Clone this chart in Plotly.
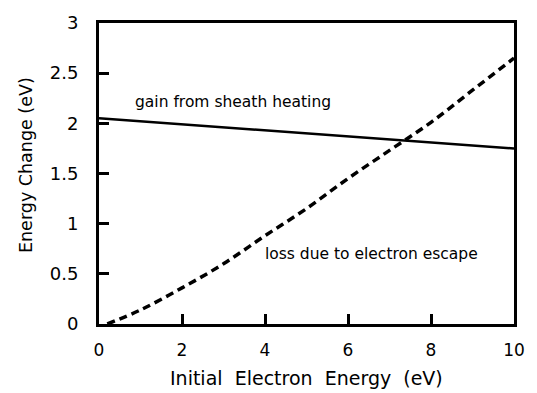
import plotly.graph_objects as go

# Data
gain_x = [0, 2, 4, 6, 8, 10]
gain_y = [2.05, 1.99, 1.93, 1.87, 1.81, 1.75]

loss_x = [0.2, 1, 2, 3, 4, 5, 6, 7, 8, 9, 10]
loss_y = [0.0, 0.14, 0.36, 0.60, 0.88, 1.15, 1.45, 1.73, 2.01, 2.33, 2.65]

x_ticks = [0, 2, 4, 6, 8, 10]
y_ticks = [0, 0.5, 1, 1.5, 2, 2.5, 3]
y_tick_text = ["0", "0.5", "1", "1.5", "2", "2.5", "3"]

FONT = "DejaVu Sans, Liberation Sans, Arial, sans-serif"

fig = go.Figure()
fig.add_trace(go.Scatter(x=gain_x, y=gain_y, mode="lines",
                         line=dict(color="black", width=2.5), showlegend=False))
fig.add_trace(go.Scatter(x=loss_x, y=loss_y, mode="lines", line_shape="spline",
                         line=dict(color="black", width=3.5, dash="8px,5px"),
                         showlegend=False))

fig.add_annotation(x=0.81, y=2.21, xref="x", yref="y", text="gain from sheath heating",
                   showarrow=False, xanchor="left", yanchor="middle",
                   font=dict(family=FONT, size=15.5, color="black"))
fig.add_annotation(x=3.94, y=0.70, xref="x", yref="y", text="loss due to electron escape",
                   showarrow=False, xanchor="left", yanchor="middle",
                   font=dict(family=FONT, size=15.5, color="black"))

fig.add_annotation(x=0.5, y=-0.181, xref="paper", yref="paper",
                   text="Initial&nbsp;&nbsp;Electron&nbsp;&nbsp;Energy&nbsp;&nbsp;(eV)",
                   showarrow=False, xanchor="center", yanchor="middle", borderpad=0,
                   font=dict(family=FONT, size=19, color="black"))
fig.add_annotation(x=-0.176, y=0.528, xref="paper", yref="paper",
                   text="Energy Change (eV)", textangle=-90,
                   showarrow=False, xanchor="center", yanchor="middle",
                   font=dict(family=FONT, size=17.5, color="black"))

fig.update_xaxes(range=[0, 10], tickvals=x_ticks, ticks="inside", ticklen=10, tickwidth=2.5,
                 tickcolor="black", showline=True, linewidth=3, linecolor="black",
                 mirror=True, showgrid=False, zeroline=False, ticklabelstandoff=9,
                 tickfont=dict(family=FONT, size=17, color="black"))
fig.update_yaxes(range=[0, 3], tickvals=y_ticks, ticktext=y_tick_text, ticks="inside",
                 ticklen=10, tickwidth=2.5, tickcolor="black", showline=True, linewidth=3,
                 linecolor="black", mirror=True, showgrid=False, zeroline=False,
                 ticklabelstandoff=14, tickfont=dict(family=FONT, size=18, color="black"))

fig.update_layout(width=537, height=393, margin=dict(l=99, r=17, t=17, b=69),
                  plot_bgcolor="white", paper_bgcolor="white")

fig.write_html("out.html")
